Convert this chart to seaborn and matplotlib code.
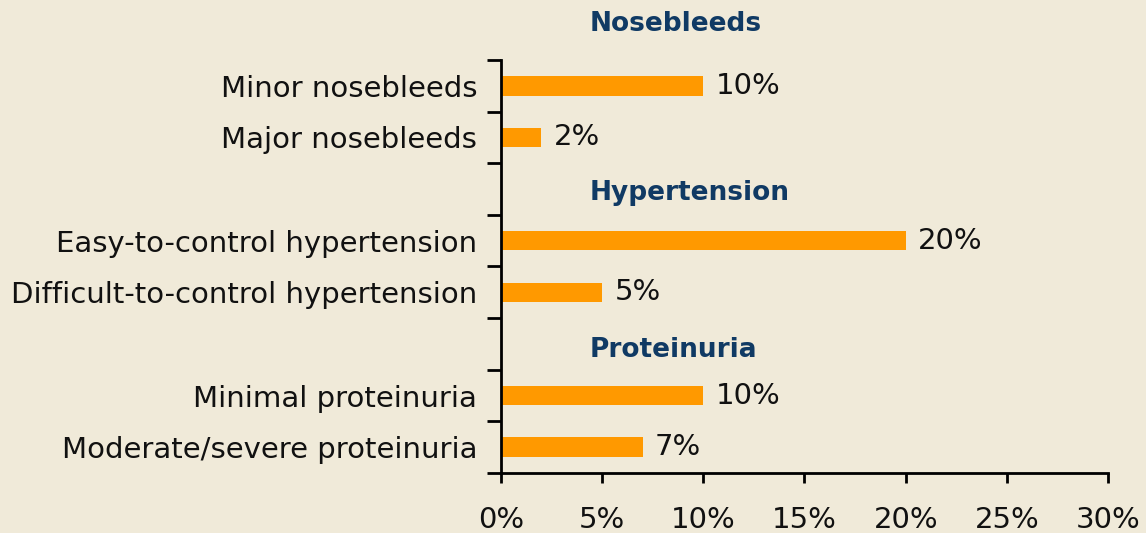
import numpy as np
import pandas as pd
import matplotlib
matplotlib.use("Agg")
import matplotlib.pyplot as plt
import seaborn as sns
from matplotlib.ticker import FixedLocator

# data
sections = ["Nosebleeds", "Hypertension", "Proteinuria"]
nosebleed_items = ["Minor nosebleeds", "Major nosebleeds"]
nosebleed_pct = [10, 2]
hypertension_items = ["Easy-to-control hypertension", "Difficult-to-control hypertension"]
hypertension_pct = [20, 5]
proteinuria_items = ["Minimal proteinuria", "Moderate/severe proteinuria"]
proteinuria_pct = [10, 7]
x_ticks = [0, 5, 10, 15, 20, 25, 30]

df = pd.DataFrame({
    "label": nosebleed_items + hypertension_items + proteinuria_items,
    "pct": nosebleed_pct + hypertension_pct + proteinuria_pct,
})

# row order: first header sits above the axes, the others take a row
order = (nosebleed_items + [sections[1]] + hypertension_items
         + [sections[2]] + proteinuria_items)

bg = "#F0EAD9"
bar_color = "#FF9900"
header_color = "#103A64"

sns.set_style("white")
plt.rcParams["font.family"] = ["DejaVu Sans"]

fig = plt.figure(figsize=(11.46, 5.33), dpi=100, facecolor=bg)
ax = fig.add_axes([0.437, 0.1126, 0.530, 0.7748])
ax.set_facecolor(bg)

sns.barplot(data=df, x="pct", y="label", order=order, orient="h",
            color=bar_color, saturation=1, width=0.38, linewidth=0, ax=ax)

for c in ax.containers:
    ax.bar_label(c, fmt="{:.0f}%", padding=9, fontsize=21, color="#111111")

ax.set_xlim(0, 30)
ax.set_ylim(len(order) - 0.5, -0.5)
ax.set_xticks(x_ticks)
ax.set_xticklabels([f"{t}%" for t in x_ticks], fontsize=21, color="#111111")
ax.tick_params(axis="x", bottom=True, length=7, width=2, pad=17, color="black")

# category labels without marks, boundary marks as minor ticks
ax.set_yticks(range(len(order)))
ax.set_yticklabels([l if l not in sections else "" for l in order],
                   fontsize=21, color="#111111")
ax.tick_params(axis="y", which="major", left=True, length=0, pad=17)
ax.yaxis.set_minor_locator(FixedLocator(np.arange(-0.5, len(order), 1.0)))
ax.tick_params(axis="y", which="minor", left=True, length=10, width=2, color="black")

ax.set_xlabel("")
ax.set_ylabel("")
for s in ["top", "right"]:
    ax.spines[s].set_visible(False)
for s in ["left", "bottom"]:
    ax.spines[s].set_linewidth(2)
    ax.spines[s].set_color("black")

# section headers
header_y = [-1.2, order.index(sections[1]) + 0.08, order.index(sections[2]) + 0.12]
for name, y in zip(sections, header_y):
    ax.text(4.4, y, name, ha="left", va="center", fontsize=19,
            fontweight="bold", color=header_color, clip_on=False)

fig.savefig("out.png", dpi=100, facecolor=bg)
